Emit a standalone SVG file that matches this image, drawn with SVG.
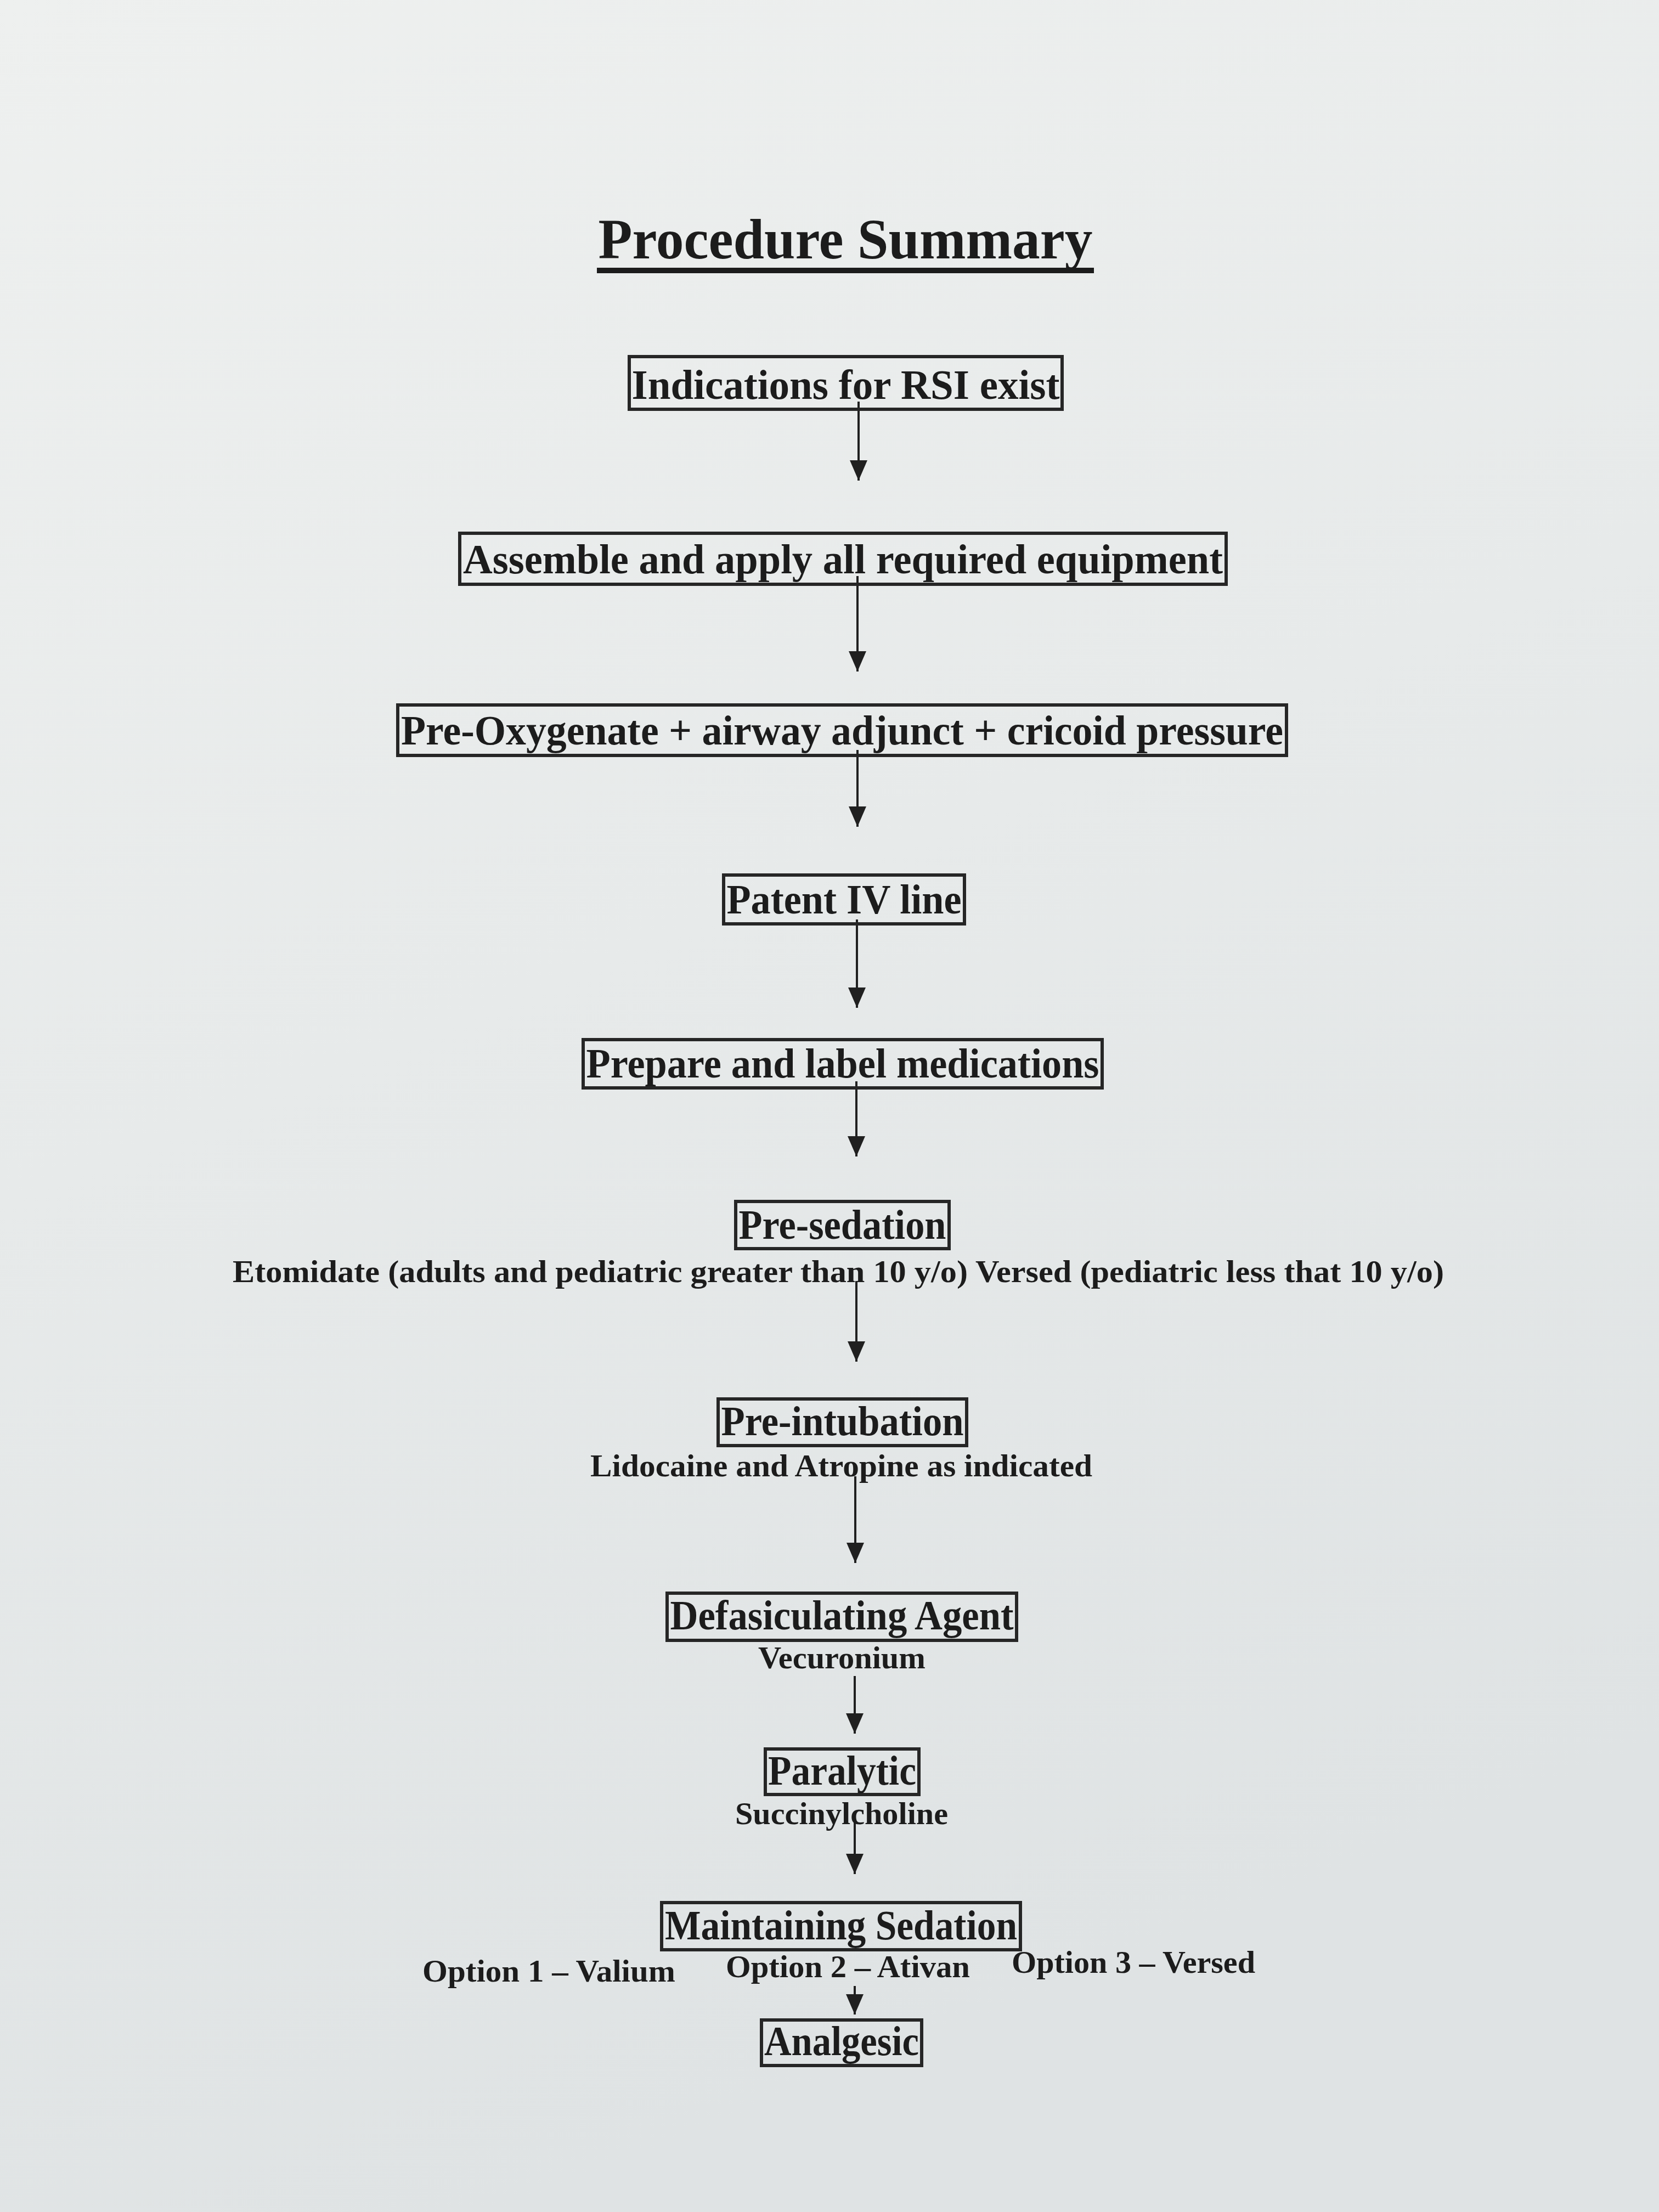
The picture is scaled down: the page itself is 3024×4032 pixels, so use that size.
<svg xmlns="http://www.w3.org/2000/svg" width="3024" height="4032" viewBox="0 0 3024 4032">
<defs>
<linearGradient id="paper" x1="0" y1="0" x2="0.3" y2="1">
<stop offset="0" stop-color="#eef0ef"/>
<stop offset="0.5" stop-color="#e7eaea"/>
<stop offset="1" stop-color="#dfe3e4"/>
</linearGradient>
<marker id="ah" markerUnits="userSpaceOnUse" markerWidth="38" markerHeight="34" refX="37" refY="16" orient="auto" viewBox="0 0 38 34">
<path d="M0,0 L37,16 L0,32 z" fill="#202020"/>
</marker>
<style>
.box{fill:none;stroke:#262626;stroke-width:6}
.t{font-family:"Liberation Serif","Times New Roman",serif;font-weight:bold;fill:#1c1c1c;text-anchor:middle}
.main{font-size:76px}
.sub{font-size:58px}
.title{font-size:104px}
.conn{stroke:#202020;stroke-width:4;fill:none;marker-end:url(#ah)}
</style>
</defs>
<rect x="0" y="0" width="3024" height="4032" fill="url(#paper)"/>

<g id="title">
<text class="t title" x="1541" y="471" textLength="901" lengthAdjust="spacingAndGlyphs">Procedure Summary</text>
<line x1="1088" y1="493" x2="1994" y2="493" stroke="#1c1c1c" stroke-width="10"/>
</g>

<g id="connectors">
<line class="conn" x1="1565" y1="732" x2="1565" y2="876"/>
<line class="conn" x1="1563" y1="1050" x2="1563" y2="1224"/>
<line class="conn" x1="1563" y1="1367" x2="1563" y2="1507"/>
<line class="conn" x1="1562" y1="1676" x2="1562" y2="1837"/>
<line class="conn" x1="1561" y1="1971" x2="1561" y2="2108"/>
<line class="conn" x1="1561" y1="2335" x2="1561" y2="2482"/>
<line class="conn" x1="1559" y1="2691" x2="1559" y2="2849"/>
<line class="conn" x1="1558" y1="3055" x2="1558" y2="3160"/>
<line class="conn" x1="1558" y1="3319" x2="1558" y2="3416"/>
<line class="conn" x1="1558" y1="3620" x2="1558" y2="3672"/>
</g>

<g id="n1">
<rect class="box" x="1147" y="650" width="789" height="96"/>
<text class="t main" x="1541.5" y="727" textLength="780" lengthAdjust="spacingAndGlyphs">Indications for RSI exist</text>
</g>

<g id="n2">
<rect class="box" x="838" y="972" width="1397" height="93"/>
<text class="t main" x="1536.5" y="1045" textLength="1385" lengthAdjust="spacingAndGlyphs">Assemble and apply all required equipment</text>
</g>

<g id="n3">
<rect class="box" x="725" y="1285" width="1620" height="92"/>
<text class="t main" x="1535" y="1357" textLength="1608" lengthAdjust="spacingAndGlyphs">Pre-Oxygenate + airway adjunct + cricoid pressure</text>
</g>

<g id="n4">
<rect class="box" x="1319" y="1595" width="439" height="89"/>
<text class="t main" x="1538.5" y="1665" textLength="428" lengthAdjust="spacingAndGlyphs">Patent IV line</text>
</g>

<g id="n5">
<rect class="box" x="1063" y="1895" width="946" height="88"/>
<text class="t main" x="1536" y="1964" textLength="935" lengthAdjust="spacingAndGlyphs">Prepare and label medications</text>
</g>

<g id="n6">
<rect class="box" x="1341" y="2190" width="389" height="86"/>
<text class="t main" x="1535.5" y="2258" textLength="378" lengthAdjust="spacingAndGlyphs">Pre-sedation</text>
<text class="t sub" x="1528" y="2337" textLength="2208" lengthAdjust="spacingAndGlyphs">Etomidate (adults and pediatric greater than 10 y/o) Versed (pediatric less that 10 y/o)</text>
</g>

<g id="n7">
<rect class="box" x="1309" y="2550" width="453" height="85"/>
<text class="t main" x="1535.5" y="2616" textLength="442" lengthAdjust="spacingAndGlyphs">Pre-intubation</text>
<text class="t sub" x="1533.5" y="2691" textLength="915" lengthAdjust="spacingAndGlyphs">Lidocaine and Atropine as indicated</text>
</g>

<g id="n8">
<rect class="box" x="1216" y="2904" width="637" height="86"/>
<text class="t main" x="1534.5" y="2970" textLength="626" lengthAdjust="spacingAndGlyphs">Defasiculating Agent</text>
<text class="t sub" x="1534.5" y="3041" textLength="305" lengthAdjust="spacingAndGlyphs">Vecuronium</text>
</g>

<g id="n9">
<rect class="box" x="1395" y="3188" width="280" height="83"/>
<text class="t main" x="1535" y="3253" textLength="270" lengthAdjust="spacingAndGlyphs">Paralytic</text>
<text class="t sub" x="1534" y="3325" textLength="388" lengthAdjust="spacingAndGlyphs">Succinylcholine</text>
</g>

<g id="n10">
<rect class="box" x="1206" y="3468" width="654" height="86"/>
<text class="t main" x="1533" y="3535" textLength="642" lengthAdjust="spacingAndGlyphs">Maintaining Sedation</text>
<text class="t sub" x="1000.5" y="3612" textLength="461" lengthAdjust="spacingAndGlyphs">Option 1 – Valium</text>
<text class="t sub" x="1545.5" y="3604" textLength="445" lengthAdjust="spacingAndGlyphs">Option 2 – Ativan</text>
<text class="t sub" x="2066" y="3596" textLength="444" lengthAdjust="spacingAndGlyphs">Option 3 – Versed</text>
</g>

<g id="n11">
<rect class="box" x="1388" y="3682" width="292" height="83"/>
<text class="t main" x="1534" y="3746" textLength="282" lengthAdjust="spacingAndGlyphs">Analgesic</text>
</g>
</svg>
